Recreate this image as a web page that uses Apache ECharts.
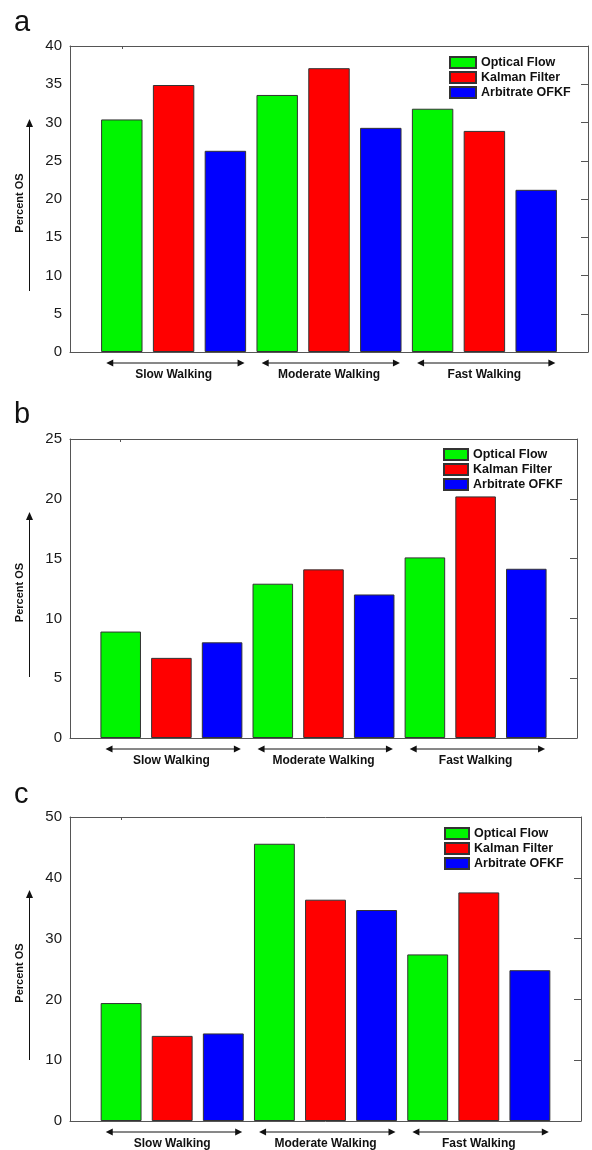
<!DOCTYPE html>
<html>
<head>
<meta charset="utf-8">
<script src="https://cdn.jsdelivr.net/npm/echarts@6/dist/echarts.min.js"></script>
<style>
  html, body { margin: 0; padding: 0; background: #ffffff; }
  #chart { width: 592px; height: 1150px; }
</style>
</head>
<body>
<div id="chart"></div>
<script>
// Walking speed groups and detection methods
const categories = ['Slow Walking', 'Moderate Walking', 'Fast Walking'];
const seriesNames = ['Optical Flow', 'Kalman Filter', 'Arbitrate OFKF'];
const panelLetters = ['a', 'b', 'c'];
const yAxisMax = [40, 25, 50];
const yAxisStep = [5, 5, 10];
const yAxisTitle = 'Percent OS';

// Percent OS per panel, one array per method (Slow, Moderate, Fast)
const opticalA = [30.4, 33.6, 31.8];
const kalmanA = [34.9, 37.1, 28.9];
const arbitrateA = [26.3, 29.3, 21.2];

const opticalB = [8.9, 12.9, 15.1];
const kalmanB = [6.7, 14.1, 20.2];
const arbitrateB = [8.0, 12.0, 14.15];

const opticalC = [19.4, 45.6, 27.4];
const kalmanC = [14.0, 36.4, 37.6];
const arbitrateC = [14.4, 34.7, 24.8];

const panelValues = [
  [opticalA, kalmanA, arbitrateA],
  [opticalB, kalmanB, arbitrateB],
  [opticalC, kalmanC, arbitrateC]
];

const colors = ['#00f500', '#ff0000', '#0000ff'];
const FONT = 'Arial, "Liberation Sans", sans-serif';
const frameColor = '#555555';

// grid rectangles for the three stacked panels
const grids = [
  { left: 70, top: 46, width: 518, height: 306 },
  { left: 70, top: 439, width: 507, height: 299 },
  { left: 70, top: 817, width: 511, height: 304 }
];
const legendPos = [
  { left: 449, top: 56, w: 26 },
  { left: 443, top: 448, w: 24 },
  { left: 444, top: 827, w: 24 }
];

const chart = echarts.init(document.getElementById('chart'), null, { renderer: 'canvas' });

const xAxis = [], yAxis = [], series = [], legend = [];
grids.forEach((g, p) => {
  // bottom axis: slots 0..10, bars sit on 1..9, group name under the middle bar
  xAxis.push({
    type: 'value', gridIndex: p, min: 0, max: 10, interval: 1, position: 'bottom',
    axisLine: { show: true, onZero: false, lineStyle: { color: frameColor, width: 1 } },
    axisTick: { show: false }, splitLine: { show: false },
    axisLabel: {
      show: true, margin: 17, fontFamily: FONT, fontSize: 12, fontWeight: 'bold', color: '#111',
      formatter: v => (v % 3 === 2 ? categories[(v - 2) / 3] : '')
    }
  });
  // top frame line
  xAxis.push({
    type: 'value', gridIndex: p, min: 0, max: 10, position: 'top',
    axisLine: { show: true, onZero: false, lineStyle: { color: frameColor, width: 1 } },
    axisTick: { show: true, inside: true, length: 3, customValues: [1], lineStyle: { color: frameColor } },
    axisLabel: { show: false }, splitLine: { show: false }
  });
  // left value axis with labels
  yAxis.push({
    type: 'value', gridIndex: p, min: 0, max: yAxisMax[p], interval: yAxisStep[p], position: 'left',
    axisLine: { show: true, onZero: false, lineStyle: { color: frameColor, width: 1 } },
    axisTick: { show: false }, splitLine: { show: false },
    axisLabel: { margin: 8, fontFamily: FONT, fontSize: 15, color: '#1a1a1a' }
  });
  // right frame with inward ticks
  yAxis.push({
    type: 'value', gridIndex: p, min: 0, max: yAxisMax[p], interval: yAxisStep[p], position: 'right',
    axisLine: { show: true, onZero: false, lineStyle: { color: frameColor, width: 1 } },
    axisTick: { show: true, inside: true, length: 7, lineStyle: { color: frameColor } },
    axisLabel: { show: false }, splitLine: { show: false }
  });

  const barW = g.width / 10 * 0.8;
  seriesNames.forEach((name, s) => {
    series.push({
      name, type: 'bar', xAxisIndex: 2 * p, yAxisIndex: 2 * p,
      barWidth: barW, barGap: '-100%',
      itemStyle: { color: colors[s], borderColor: '#333', borderWidth: 1 },
      data: panelValues[p][s].map((v, gi) => [3 * gi + s + 1, v]),
      animation: false
    });
  });

  const lp = legendPos[p];
  legend.push({
    data: seriesNames, orient: 'vertical', left: lp.left, top: lp.top, padding: 0,
    itemWidth: lp.w, itemHeight: 11, itemGap: 2, icon: 'rect',
    selectedMode: false,
    textStyle: { fontFamily: FONT, fontSize: 12.5, fontWeight: 'bold', color: '#111', padding: 0 }
  });
});

chart.setOption({
  animation: false,
  backgroundColor: '#ffffff',
  grid: grids.map(g => Object.assign({ containLabel: false }, g)),
  xAxis, yAxis, series, legend
});

// annotations: panel letters, axis titles with arrows, group arrows under the bars
function arrowHead(x, y, dir) {
  // dir: 'left' | 'right' | 'up'
  const L = 7, H = 3.5;
  let pts;
  if (dir === 'left') pts = [[x, y], [x + L, y - H], [x + L, y + H]];
  else if (dir === 'right') pts = [[x, y], [x - L, y - H], [x - L, y + H]];
  else pts = [[x, y], [x - H, y + L + 1], [x + H, y + L + 1]];
  return { type: 'polygon', shape: { points: pts }, style: { fill: '#111' }, silent: true };
}

const letterTop = [8, 400, 780];
const graphic = [];
grids.forEach((g, p) => {
  const bottom = g.top + g.height;
  graphic.push({
    type: 'text', x: 14, y: letterTop[p],
    style: { text: panelLetters[p], font: '29px ' + FONT, fill: '#111', verticalAlign: 'top' },
    silent: true
  });
  graphic.push({
    type: 'text', x: 20, y: g.top + g.height / 2 + 4, rotation: Math.PI / 2,
    style: { text: yAxisTitle, font: 'bold 11px ' + FONT, fill: '#111', align: 'center', verticalAlign: 'middle' },
    silent: true
  });
  const ayTop = g.top + 73, ayBot = bottom - 61;
  graphic.push({ type: 'line', shape: { x1: 29.5, y1: ayTop + 6, x2: 29.5, y2: ayBot }, style: { stroke: '#111', lineWidth: 1 }, silent: true });
  graphic.push(arrowHead(29.5, ayTop, 'up'));

  categories.forEach((c, gi) => {
    const x0 = chart.convertToPixel({ xAxisIndex: 2 * p }, 3 * gi + 0.7);
    const x1 = chart.convertToPixel({ xAxisIndex: 2 * p }, 3 * gi + 3.37);
    const y = bottom + 11;
    graphic.push({ type: 'line', shape: { x1: x0 + 5, y1: y, x2: x1 - 5, y2: y }, style: { stroke: '#111', lineWidth: 1 }, silent: true });
    graphic.push(arrowHead(x0, y, 'left'));
    graphic.push(arrowHead(x1, y, 'right'));
  });
});

chart.setOption({ graphic });
</script>
</body>
</html>
